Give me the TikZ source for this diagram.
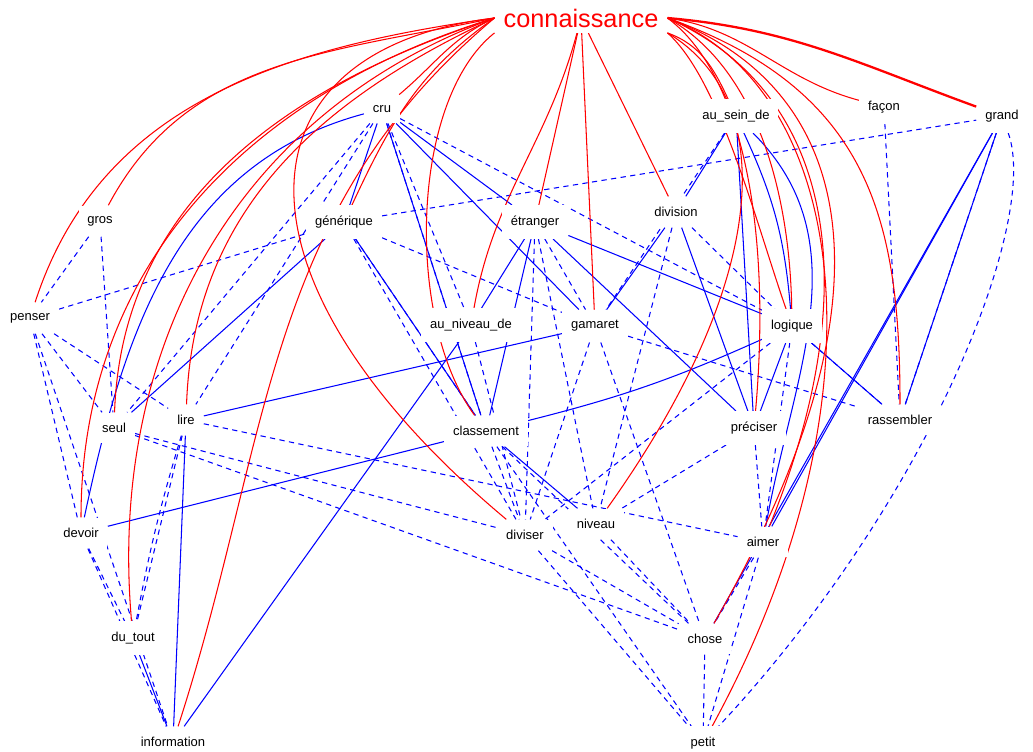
\documentclass[tikz,border=0pt]{standalone}
\usepackage{fontspec}
\setmainfont{Liberation Sans}
\usetikzlibrary{backgrounds}
\tikzset{wrd/.style={fill=white,inner xsep=5pt,inner ysep=6pt,font=\fontsize{7.4}{8}\selectfont},
  bl/.style={blue,line width=.6pt},
  bd/.style={blue,line width=.6pt,dash pattern=on 3pt off 2.5pt},
  rd/.style={red,line width=.6pt}}
\begin{document}
\begin{tikzpicture}[x=0.02cm,y=0.02cm]
\useasboundingbox(0,0)rectangle(1033,-751);
% mots
\node[wrd,text=red,inner ysep=3pt,font=\fontsize{14.4}{16}\selectfont](con)at(581,-18){connaissance};
\node[wrd](cru)at(382,-109){cru};
\node[wrd](sein)at(736,-116){au\_sein\_de};
\node[wrd](facon)at(884,-107){façon};
\node[wrd](grand)at(1002,-116){grand};
\node[wrd](gros)at(100,-221){gros};
\node[wrd](gen)at(344,-222){générique};
\node[wrd](etr)at(535,-222){étranger};
\node[wrd](div)at(676,-212){division};
\node[wrd](pen)at(30,-318){penser};
\node[wrd](anv)at(471,-325){au\_niveau\_de};
\node[wrd](gam)at(595,-326){gamaret};
\node[wrd](log)at(792,-326){logique};
\node[wrd](seul)at(114,-428){seul};
\node[wrd](lire)at(186,-420){lire};
\node[wrd](cla)at(486,-431){classement};
\node[wrd](pre)at(754,-428){préciser};
\node[wrd](ras)at(900,-420){rassembler};
\node[wrd](dev)at(81,-533){devoir};
\node[wrd](dvs)at(525,-535){diviser};
\node[wrd](niv)at(596,-524){niveau};
\node[wrd](aim)at(763,-542){aimer};
\node[wrd](dut)at(133,-638){du\_tout};
\node[wrd](cho)at(705,-639){chose};
\node[wrd](inf)at(173,-742){information};
\node[wrd](pet)at(703,-743){petit};
\begin{scope}[on background layer]
% liens pointilles
\draw[bd](pen)--(gen);\draw[bd](gros)--(pen);\draw[bd](pen)--(seul);\draw[bd](pen)--(lire);
\draw[bd](pen)--(dev);\draw[bd](pen)--(inf);\draw[bd](gen)--(grand);\draw[bd](cru)--(seul);
\draw[bd](cru)--(lire);\draw[bd](cru)--(log);\draw[bd](cru)--(anv);\draw[bd](cru)--(cla);
\draw[bd](gros)--(seul);\draw[bd](seul)--(dvs);\draw[bd](seul)--(cho);\draw[bd](lire)--(aim);
\draw[bd](lire)--(dut);\draw[bd](lire)to[bend right=3](dut);\draw[bd](dev)--(inf);\draw[bd](dev)--(dut);
\draw[bd](gen)--(gam);\draw[bd](gen)--(dvs);\draw[bd](gen)--(cla);\draw[bd](etr)--(gam);\draw[bd](etr)--(dvs);
\draw[bd](etr)--(niv);\draw[bd](gam)--(cho);\draw[bd](gam)--(ras);\draw[bd](gam)--(dvs);
\draw[bd](div)--(log);\draw[bd](div)--(niv);\draw[bd](sein)--(gam);\draw[bd](log)--(ras);
\draw[bd](log)--(aim);\draw[bd](log)--(dvs);\draw[bd](pre)--(niv);\draw[bd](pre)--(aim);
\draw[bd](facon)--(ras);\draw[bd](grand)..controls(1040,-220)and(930,-500)..(pet);\draw[bd](grand)--(ras);
\draw[bd](aim)--(cho);\draw[bd](aim)--(pet);\draw[bd](cho)--(pet);\draw[bd](cla)--(cho);
\draw[bd](cla)--(pet);\draw[bd](dvs)--(cho);\draw[bd](dvs)--(pet);\draw[bd](niv)--(cho);
\draw[bd](anv)--(dvs);\draw[bd](cla)--(dvs);
% liens pleins
\draw[bl](cru)--(gen);\draw[bl](cru)to[out=195,in=78](dev);\draw[bl](cru)--(etr);
\draw[bl](cru)--(gam);\draw[bl](cru)--(cla);\draw[bl](gen)--(cla);\draw[bl](gen)--(seul);
\draw[bl](etr)--(log);\draw[bl](etr)--(pre);\draw[bl](etr)--(anv);\draw[bl](etr)--(cla);
\draw[bl](lire)--(gam);\draw[bl](lire)--(inf);\draw[bl](dev)--(cla);\draw[bl](inf)--(anv);
\draw[bl](dut)--(inf);\draw[bl](gam)--(div);\draw[bl](div)--(pre);\draw[bl](log)to[bend left=5](cla);
\draw[bl](log)--(ras);\draw[bl](log)--(pre);\draw[bl](sein)--(div);\draw[bl](sein)--(pre);
\draw[bl](sein)to[bend left=10](log);\draw[bl](sein)to[out=-45,in=80](aim);\draw[bl](cla)--(niv);
\draw[bl](grand)--(ras);\draw[bl](grand)--(aim);\draw[bl](grand)--(cho);
% liens rouges
\draw[rd](con.west)to[out=188,in=72](pen);\draw[rd](con.west)to[out=192,in=62](gros);
\draw[rd](con.west)to[out=198,in=88](seul);\draw[rd](con.west)to[out=197,in=90](dev);
\draw[rd](con.west)to[out=200,in=95](dut);\draw[rd](con.west)to[out=205,in=88](lire);
\draw[rd](con.west)to[out=215,in=65](gen);\draw[rd](con.west)to[out=220,in=72](inf);
\draw[rd](con.west)to[out=205,in=40](cru);
\draw[rd](con.west)..controls(230,-50)and(220,-280)..(dvs);
\draw[rd](con.south west)..controls(410,-100)and(405,-320)..(cla);
\draw[rd](con)to[out=255,in=80](anv);
\draw[rd](con)--(etr);\draw[rd](con)--(gam);\draw[rd](con)--(div);
\draw[rd](con.south east)to[out=-20,in=115](sein);\draw[rd](con.east)to[out=-8,in=165](facon);
\draw[rd,line width=1.3pt](con.east)to[out=-5,in=160](grand);
\draw[rd](con.south east)..controls(720,-80)and(755,-220)..(log);
\draw[rd](con.east)..controls(760,-70)and(790,-200)..(log);
\draw[rd](con.east)..controls(750,-80)and(770,-250)..(pre);
\draw[rd](con.east)..controls(830,-90)and(870,-280)..(aim);
\draw[rd](con.east)..controls(850,-90)and(890,-400)..(pet);
\draw[rd](con.east)..controls(860,-90)and(900,-300)..(cho);
\draw[rd](con.east)..controls(870,-90)and(900,-220)..(ras);
\draw[rd](con.south east)..controls(780,-100)and(770,-280)..(niv);
\end{scope}
\end{tikzpicture}
\end{document}
